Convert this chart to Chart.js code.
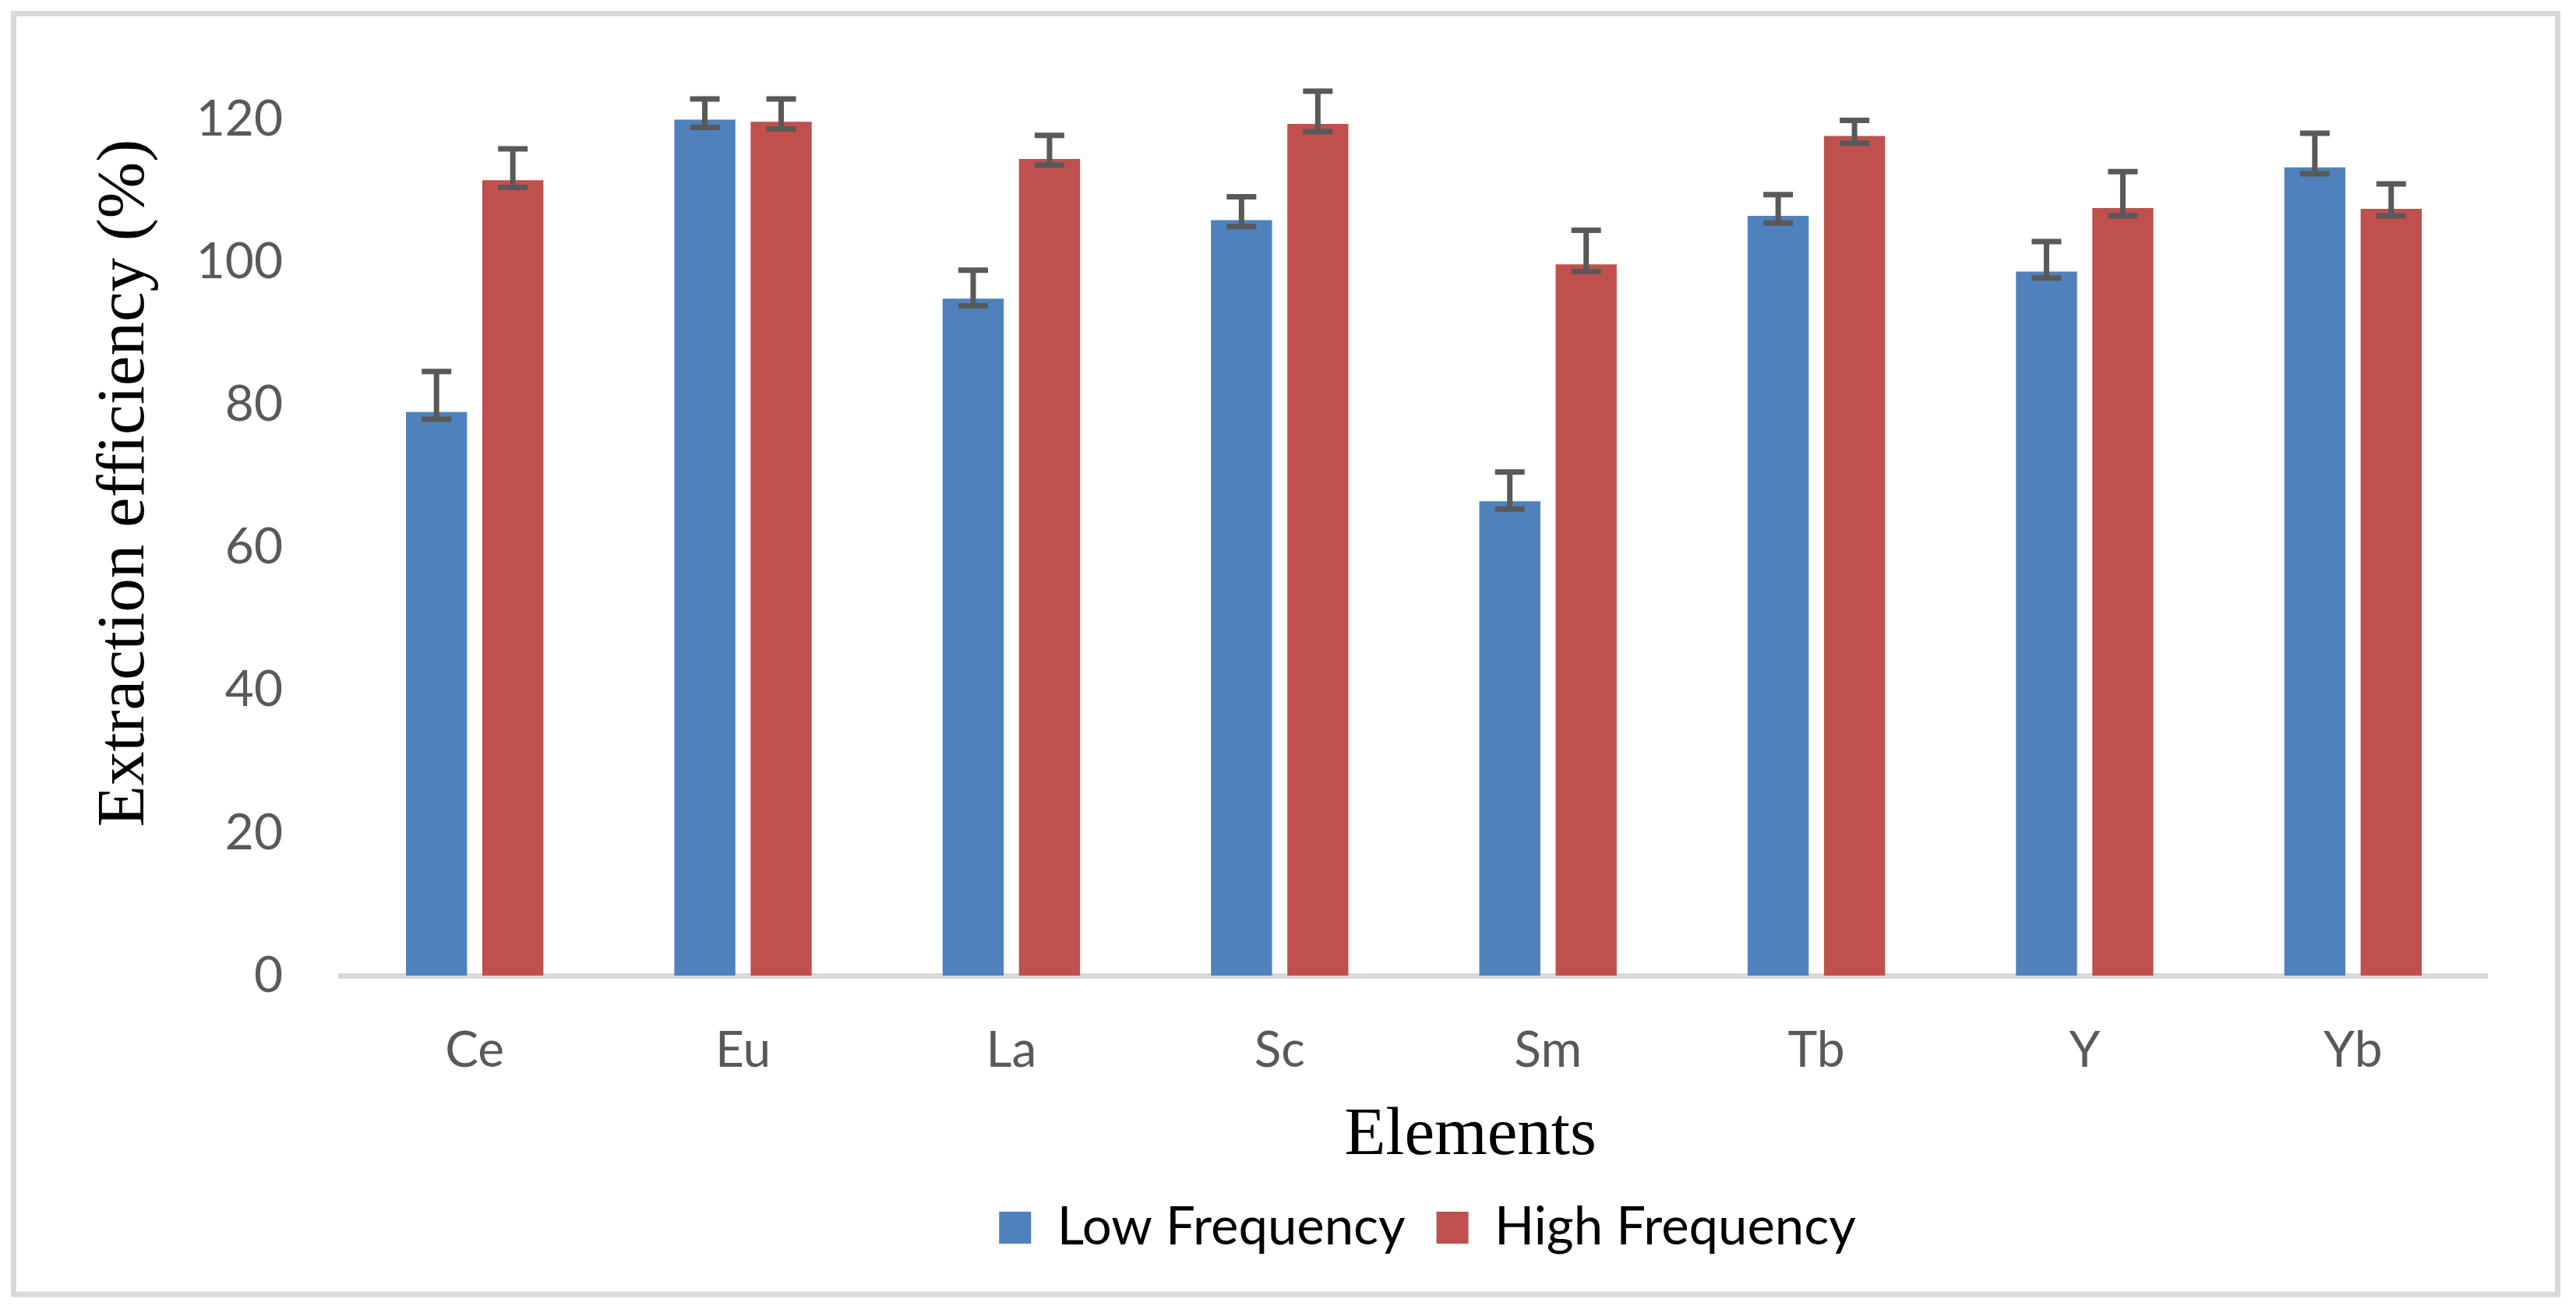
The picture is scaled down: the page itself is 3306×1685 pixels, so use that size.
<!DOCTYPE html>
<html>
<head>
<meta charset="utf-8">
<title>Extraction efficiency</title>
<script src="https://cdn.jsdelivr.net/npm/chart.js@4.4.0/dist/chart.umd.min.js"></script>
<style>
  html, body { margin: 0; padding: 0; background: #fff; overflow: hidden; }
  canvas { display: block; width: 3306px; height: 1685px; }
</style>
</head>
<body>
<canvas id="chart" width="3306" height="1685"></canvas>
<script>
// data
const elements = ["Ce", "Eu", "La", "Sc", "Sm", "Tb", "Y", "Yb"];
const lowFrequency = [79.0, 120.0, 94.9, 105.9, 66.5, 106.5, 98.7, 113.3];
const highFrequency = [111.5, 119.7, 114.5, 119.4, 99.7, 117.7, 107.6, 107.5];
const lowErrPlus = [5.7, 2.9, 4.0, 3.3, 4.1, 3.0, 4.2, 4.8];
const lowErrMinus = [1.0, 1.1, 1.0, 0.9, 1.1, 1.0, 0.9, 0.9];
const highErrPlus = [4.4, 3.2, 3.3, 4.6, 4.8, 2.2, 5.1, 3.5];
const highErrMinus = [1.0, 1.0, 0.9, 1.1, 1.0, 1.0, 1.1, 1.0];
const yTicks = [0, 20, 40, 60, 80, 100, 120];

const sansFont = "Lato, 'Open Sans', sans-serif";
const serifFont = "'Liberation Serif', 'DejaVu Serif', serif";
const legendShift = 236;

// outer frame of the chart
const frame = {
    id: "frame",
    beforeDraw(chart) {
        const ctx = chart.ctx;
        ctx.save();
        ctx.strokeStyle = "#d9d9d9";
        ctx.lineWidth = 7;
        ctx.strokeRect(17.5, 17.5, 3265, 1643.5);
        ctx.restore();
    }
};

// move the legend to where the original has it
const legendOffset = {
    id: "legendOffset",
    afterLayout(chart) {
        chart.legend.left += legendShift;
        chart.legend.right += legendShift;
    }
};

// error bars, plus / minus taken from the dataset
const errorBars = {
    id: "errorBars",
    afterDatasetsDraw(chart) {
        const ctx = chart.ctx;
        const yScale = chart.scales.y;
        ctx.save();
        ctx.strokeStyle = "#595959";
        ctx.lineWidth = 7;
        chart.data.datasets.forEach((ds, di) => {
            const meta = chart.getDatasetMeta(di);
            meta.data.forEach((bar, i) => {
                const top = yScale.getPixelForValue(ds.data[i] + ds.errPlus[i]);
                const bottom = yScale.getPixelForValue(ds.data[i] - ds.errMinus[i]);
                ctx.beginPath();
                ctx.moveTo(bar.x, top);
                ctx.lineTo(bar.x, bottom);
                ctx.moveTo(bar.x - 19, top);
                ctx.lineTo(bar.x + 19, top);
                ctx.moveTo(bar.x - 19, bottom);
                ctx.lineTo(bar.x + 19, bottom);
                ctx.stroke();
            });
        });
        ctx.restore();
    }
};

// axis titles (placed like the Excel original)
const axisTitles = {
    id: "axisTitles",
    afterDraw(chart) {
        const ctx = chart.ctx;
        ctx.save();
        ctx.fillStyle = "#000";
        ctx.font = "87px " + serifFont;
        ctx.textAlign = "center";
        ctx.textBaseline = "alphabetic";
        ctx.fillText("Elements", 1887, 1481);
        ctx.translate(184, 620);
        ctx.rotate(-Math.PI / 2);
        ctx.fillText("Extraction efficiency (%)", 0, 0);
        ctx.restore();
    }
};

const ctx = document.getElementById("chart").getContext("2d");

new Chart(ctx, {
    type: "bar",
    data: {
        labels: elements,
        datasets: [
            {
                label: "Low Frequency",
                data: lowFrequency,
                errPlus: lowErrPlus,
                errMinus: lowErrMinus,
                backgroundColor: "#4f81bd",
            },
            {
                label: "High Frequency",
                data: highFrequency,
                errPlus: highErrPlus,
                errMinus: highErrMinus,
                backgroundColor: "#c0504d",
            }
        ]
    },
    options: {
        responsive: false,
        devicePixelRatio: 1,
        animation: false,
        categoryPercentage: 0.569,
        barPercentage: 0.8,
        layout: { padding: { top: 62, right: 114, bottom: 66, left: 0 } },
        plugins: {
            tooltip: { enabled: false },
            legend: {
                position: "bottom",
                labels: {
                    boxWidth: 41,
                    boxHeight: 41,
                    padding: 40,
                    color: "#000",
                    font: { family: sansFont, size: 67 }
                }
            }
        },
        scales: {
            x: {
                // tick marks hidden; tickLength only spaces the labels
                grid: { display: false, drawTicks: true, tickLength: 58 },
                border: { color: "#d9d9d9", width: 7 },
                ticks: { color: "#595959", padding: 0, font: { family: sansFont, size: 64 } },
                afterFit: (scale) => { scale.height = 250; }
            },
            y: {
                min: 0,
                max: 130,
                grid: { display: false, drawTicks: true, tickLength: 74 },
                border: { display: false },
                ticks: { color: "#595959", padding: 0, font: { family: sansFont, size: 64 } },
                afterBuildTicks: (axis) => { axis.ticks = yTicks.map(v => ({ value: v })); },
                afterFit: (scale) => { scale.width = 437; }
            }
        }
    },
    plugins: [frame, legendOffset, errorBars, axisTitles]
});
</script>
</body>
</html>
